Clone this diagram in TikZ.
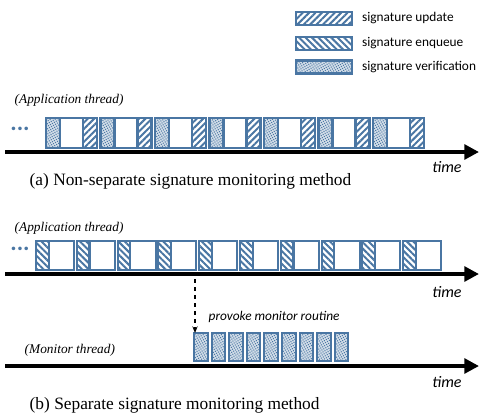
\documentclass[tikz,border=0pt]{standalone}
\usepackage{fontspec}
\setmainfont{Liberation Serif}
\newfontfamily\calfont{Carlito}
\usepackage{tikz}
\usetikzlibrary{positioning,calc,arrows.meta,patterns,patterns.meta}
\definecolor{SigBlue}{RGB}{74,118,163}
\tikzset{
    seg/.style={rectangle, draw=SigBlue, line width=1.6pt, inner sep=0pt, outer sep=0pt, anchor=north west},
    upd/.style={seg, pattern={Lines[angle=45,distance=3.4pt,line width=1.5pt]}, pattern color=SigBlue},
    enq/.style={seg, pattern={Lines[angle=-45,distance=3.4pt,line width=1.5pt]}, pattern color=SigBlue},
    ver/.style={seg, preaction={fill=SigBlue!25}, pattern={Dots[distance=1.7pt,radius=0.55pt,angle=30]}, pattern color=SigBlue},
    emp/.style={seg, fill=white},
    timeaxis/.style={line width=3pt, -{Triangle[length=11pt,width=11pt]}},
    thread/.style={anchor=west, font=\fontsize{10}{12}\selectfont\itshape},
    timelbl/.style={font=\calfont\fontsize{12}{14}\selectfont\itshape},
    caption/.style={anchor=west, font=\fontsize{13}{15}\selectfont},
    legtext/.style={anchor=west, font=\calfont\fontsize{10}{12}\selectfont},
    more/.style={text=SigBlue, font=\calfont\bfseries\fontsize{18}{20}\selectfont}
}
\begin{document}
\begin{tikzpicture}[x=0.75pt, y=-0.75pt]
    \useasboundingbox (0,0) rectangle (481,418);

    % --- LEGEND ---
    \node[upd, anchor=west, minimum width=42pt, minimum height=9.75pt] (lu) at (296,18.5) {};
    \node[enq, anchor=west, minimum width=42pt, minimum height=9.75pt] (le) at (296,43.5) {};
    \node[ver, anchor=west, minimum width=42pt, minimum height=9.75pt] (lv) at (296,67) {};
    \node[legtext, right=4pt of lu] (tu) {signature update};
    \node[legtext, right=4pt of le] (te) {signature enqueue};
    \node[legtext, right=4pt of lv] (tv) {signature verification};

    % --- (a) Non-separate ---
    \node[thread] (appa) at (10,100) {(Application thread)};
    \node[more] (dota) at (20,129) {...};
    \foreach \i in {1,...,7}{
        \node[ver, minimum width=10.5pt, minimum height=22.5pt] (va\i) at ({46+54.5*(\i-1)},118) {};
        \node[emp, right=0pt of va\i, minimum width=17.25pt, minimum height=22.5pt] (wa\i) {};
        \node[upd, right=0pt of wa\i, minimum width=10.5pt, minimum height=22.5pt] (ua\i) {};
    }
    \coordinate (sa) at (5,152);
    \coordinate (ea) at (479,152);
    \draw[timeaxis] (sa) -- (ea);
    \node[timelbl] (tma) at (447,167) {time};
    \node[caption] (capa) at (25,181) {(a) Non-separate signature monitoring method};

    % --- (b) Separate: application thread ---
    \node[thread] (appb) at (10,228) {(Application thread)};
    \node[more] (dotb) at (20,249) {...};
    \foreach \i in {1,...,10}{
        \node[enq, minimum width=9.5pt, minimum height=21.75pt] (qb\i) at ({36+40.8*(\i-1)},241) {};
        \node[emp, right=0pt of qb\i, minimum width=19pt, minimum height=21.75pt] (wb\i) {};
    }
    \coordinate (sb) at (5,274);
    \coordinate (eb) at (479,274);
    \draw[timeaxis] (sb) -- (eb);
    \node[timelbl] (tmb) at (447,292) {time};

    % --- (b) Separate: monitor thread ---
    \foreach \i in {1,...,9}{
        \node[ver, minimum width=10.2pt, minimum height=21pt] (m\i) at ({194+17.6*(\i-1)},333) {};
    }
    \coordinate (call) at (195,279);
    \draw[dashed, line width=0.9pt, -{Stealth[length=5pt,width=4pt]}] (call) -- (call |- m1.north);
    \node[anchor=west, font=\calfont\fontsize{10}{12}\selectfont\itshape] (prov) at (204,317) {provoke monitor routine};
    \node[thread] (mont) at (20,350) {(Monitor thread)};
    \coordinate (sm) at (5,366);
    \coordinate (em) at (479,366);
    \draw[timeaxis] (sm) -- (em);
    \node[timelbl] (tmm) at (447,382) {time};
    \node[caption] (capb) at (25,405) {(b) Separate signature monitoring method};
\end{tikzpicture}
\end{document}
